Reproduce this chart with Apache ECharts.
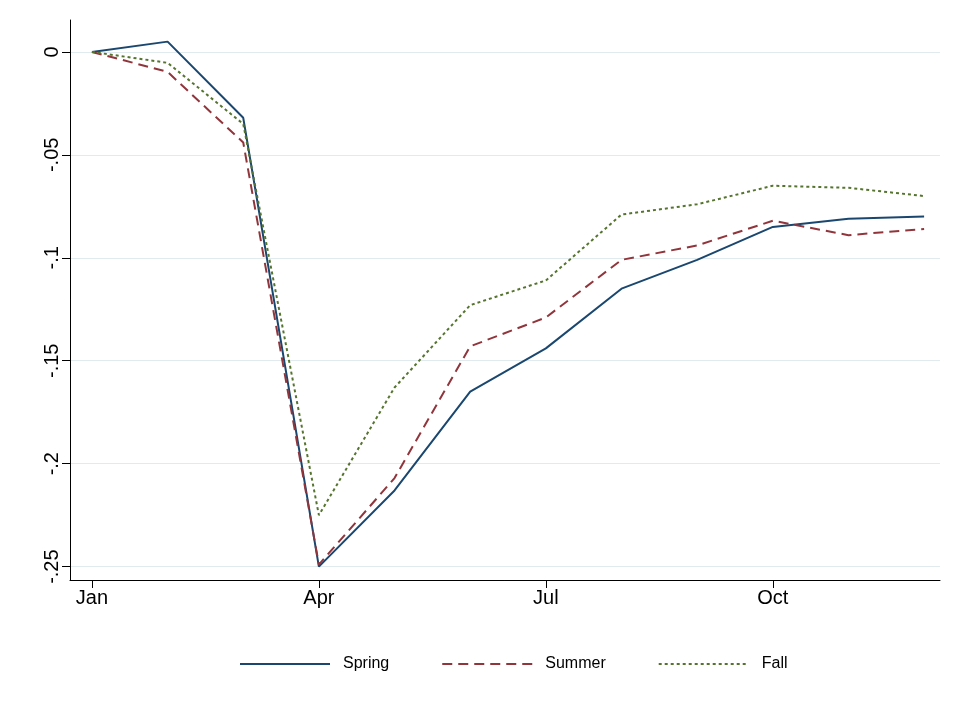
<!DOCTYPE html>
<html><head><meta charset="utf-8">
<script src="https://cdn.jsdelivr.net/npm/echarts@6/dist/echarts.min.js"></script>
<style>html,body{margin:0;padding:0;background:#fff}#c{width:953px;height:717px}</style>
</head><body><div id="c"></div>
<script>
const months = [1,2,3,4,5,6,7,8,9,10,11,12];
const monthTicks = [1,4,7,10];
const monthNames = {1:'Jan',4:'Apr',7:'Jul',10:'Oct'};
const yTicks = [0,-0.05,-0.1,-0.15,-0.2,-0.25];
const yNames = {'0':'0','-0.05':'-.05','-0.1':'-.1','-0.15':'-.15','-0.2':'-.2','-0.25':'-.25'};
const spring = [0,0.005,-0.032,-0.25,-0.213,-0.165,-0.144,-0.115,-0.101,-0.085,-0.081,-0.080];
const summer = [0,-0.0097,-0.044,-0.249,-0.207,-0.143,-0.129,-0.101,-0.094,-0.082,-0.089,-0.086];
const fall = [0,-0.0053,-0.035,-0.225,-0.163,-0.123,-0.111,-0.079,-0.074,-0.065,-0.066,-0.070];

const pair = arr => months.map((m,i) => [m, arr[i]]);
const chart = echarts.init(document.getElementById('c'));
const mk = (name, data, color, type) => ({
  name, type:'line', data:pair(data), symbol:'none',
  lineStyle:{color, width:2, type}, itemStyle:{color}
});
chart.setOption({
  animation:false,
  grid:{left:70, right:13, top:20, bottom:137},
  legend:{bottom:40, left:234, itemWidth:90, itemHeight:14, itemGap:52,
    itemStyle:{opacity:0},
    textStyle:{fontSize:16, color:'#000', fontFamily:'Liberation Sans', padding:[0,0,0,8]},
    data:['Spring','Summer','Fall']},
  xAxis:{type:'value', min:0.71, max:12.21,
    axisLine:{onZero:false, lineStyle:{color:'#000'}},
    axisTick:{customValues:monthTicks, length:8, lineStyle:{color:'#000'}},
    axisLabel:{customValues:monthTicks, formatter:v=>monthNames[v], fontSize:20, color:'#000', fontFamily:'Liberation Sans'},
    splitLine:{show:false}},
  yAxis:{type:'value', min:-0.2565, max:0.0155,
    axisLine:{show:true, onZero:false, lineStyle:{color:'#000'}},
    axisTick:{show:true, customValues:yTicks, length:8, lineStyle:{color:'#000'}},
    axisLabel:{customValues:yTicks, rotate:90, formatter:v=>yNames[String(Math.round(v*100)/100)], fontSize:20, color:'#000', fontFamily:'Liberation Sans'},
    splitLine:{show:true, lineStyle:{color:'#e1eaee'}}},
  series:[
    mk('Spring', spring, '#1a476f', 'solid'),
    mk('Summer', summer, '#90353b', [10,6]),
    mk('Fall', fall, '#55752f', [3,3])
  ]
});
</script></body></html>
